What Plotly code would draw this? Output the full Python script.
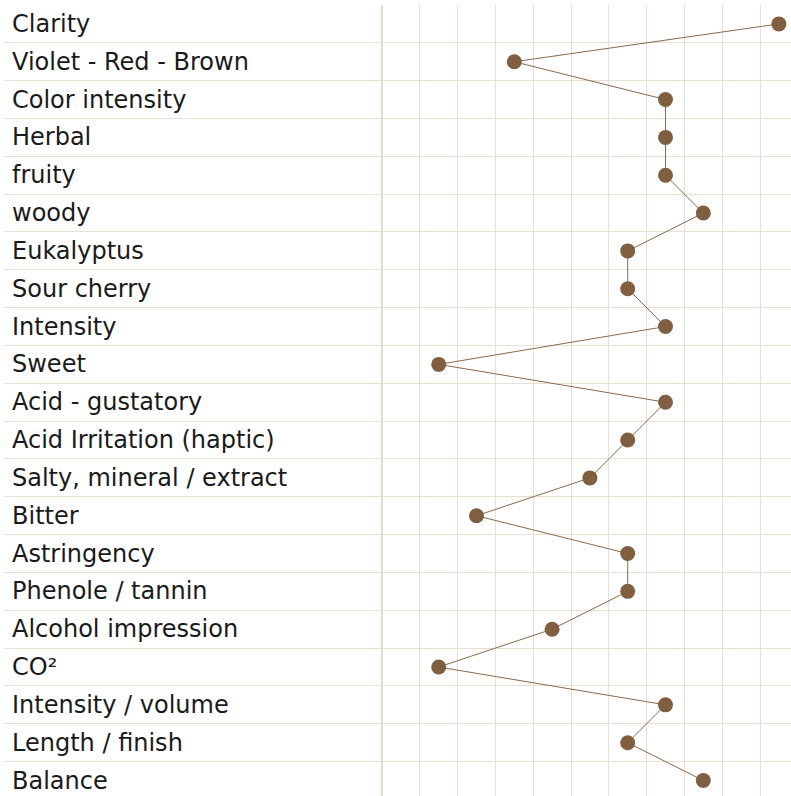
import plotly.graph_objects as go

categories = [
    "Clarity", "Violet - Red - Brown", "Color intensity", "Herbal", "fruity",
    "woody", "Eukalyptus", "Sour cherry", "Intensity", "Sweet",
    "Acid - gustatory", "Acid Irritation (haptic)", "Salty, mineral / extract",
    "Bitter", "Astringency", "Phenole / tannin", "Alcohol impression", "CO²",
    "Intensity / volume", "Length / finish", "Balance",
]
scores = [10, 3, 7, 7, 7, 8, 6, 6, 7, 1, 7, 6, 5, 2, 6, 6, 4, 1, 7, 6, 8]

W, H = 791, 796
CELL_X = 37.8
CELL_Y = 37.83
ML, MT = 4, 5

rows = list(range(len(categories)))

GRID = "#e7e1d4"
SEP = "#ddd6c7"
BROWN = "#7f5f3f"

fig = go.Figure()
fig.add_trace(go.Scatter(
    x=scores, y=rows, mode="lines+markers",
    line=dict(color="#8a6a4a", width=1),
    marker=dict(color=BROWN, size=15, line=dict(width=0)),
    hoverinfo="skip", showlegend=False, cliponaxis=False,
))

x_left = -10.5
x_right = x_left + (W - ML) / CELL_X
y_top = -0.5
y_bottom = y_top + (H - MT) / CELL_Y

for i, c in enumerate(categories):
    fig.add_annotation(
        x=x_left, y=i, xref="x", yref="y", text=c, showarrow=False,
        xanchor="left", yanchor="middle", xshift=6,
        font=dict(family="DejaVu Sans", size=24, color="#1a1a1a"),
    )

fig.add_shape(type="line", xref="x", yref="paper", x0=-0.5, x1=-0.5, y0=0, y1=1,
              line=dict(color=SEP, width=2), layer="below")

fig.update_layout(
    width=W, height=H,
    margin=dict(l=ML, r=0, t=MT, b=0),
    paper_bgcolor="white", plot_bgcolor="white",
    xaxis=dict(range=[x_left, x_right], tickvals=[x_left] + [k - 0.5 for k in range(12)],
               showgrid=True, gridcolor=GRID, gridwidth=1, zeroline=False,
               showticklabels=False, ticks="", fixedrange=True),
    yaxis=dict(range=[y_bottom, y_top], tickvals=[r - 0.5 for r in range(len(categories) + 1)],
               showgrid=True, gridcolor=GRID, gridwidth=1, zeroline=False,
               showticklabels=False, ticks="", fixedrange=True),
    hovermode=False,
)

fig.write_html(
    "out.html",
    config={"displayModeBar": False},
    post_script="document.body.style.margin='0';document.body.style.overflow='hidden';",
)
